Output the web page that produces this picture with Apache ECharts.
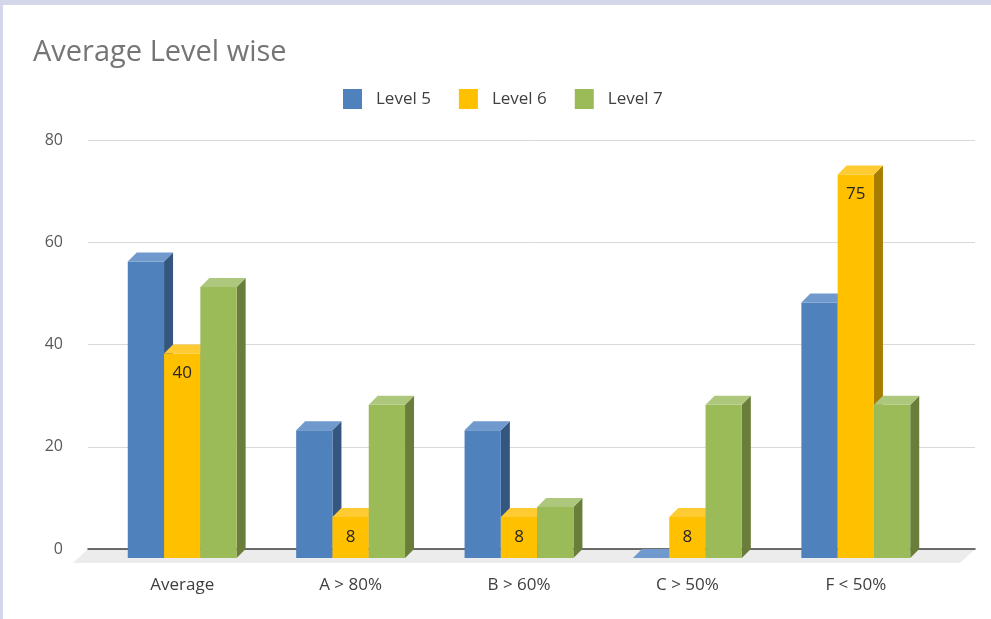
<!DOCTYPE html>
<html>
<head>
<meta charset="utf-8">
<script src="https://cdn.jsdelivr.net/npm/echarts@6/dist/echarts.min.js"></script>
<style>
html,body{margin:0;padding:0;background:#fff;}
#chart{position:absolute;left:0;top:0;width:991px;height:619px;background:#fff;}
.bt{position:absolute;left:0;top:0;width:991px;height:5px;background:#D4D6EA;}
.bl{position:absolute;left:0;top:0;width:3px;height:619px;background:#D4D6EA;}
</style>
</head>
<body>
<div id="chart"></div>
<div class="bt"></div>
<div class="bl"></div>
<script>
// ---- data ----
const categories = ['Average', 'A > 80%', 'B > 60%', 'C > 50%', 'F < 50%'];
const seriesNames = ['Level 5', 'Level 6', 'Level 7'];
const level5 = [58, 25, 25, 0, 50];
const level6 = [40, 8, 8, 8, 75];
const level7 = [53, 30, 10, 30, 30];
const yTicks = [0, 20, 40, 60, 80];

// ---- styles ----
const FONT = '"Open Sans", "Noto Sans", sans-serif';
const palette = [
  {front: '#4F81BD', top: '#7099CD', side: '#34567F'},
  {front: '#FFC000', top: '#FFCB33', side: '#A67D00'},
  {front: '#9BBB59', top: '#ADC87C', side: '#6A7D3B'}
];
const DEPTH = 9;
const BAR_FRAC = 0.2155;

function makeRender(idx, showLabel) {
  const c = palette[idx];
  return function (params, api) {
    const cat = api.value(0), v = api.value(1);
    const base = api.coord([cat, 0]);
    const topP = api.coord([cat, v]);
    const bw = api.size([1, 0])[0];
    const w = bw * BAR_FRAC;
    const x0 = base[0] + (idx - 1.5) * w;
    const x1 = x0 + w;
    const yb = base[1], yt = topP[1];
    const D = DEPTH;
    const children = [];
    if (yb - yt > 0.5) {
      children.push({type: 'polygon', shape: {points: [[x1, yt], [x1 + D, yt - D], [x1 + D, yb - D], [x1, yb]]}, style: {fill: c.side}});
      children.push({type: 'rect', shape: {x: x0, y: yt, width: w, height: yb - yt}, style: {fill: c.front}});
    }
    children.push({type: 'polygon', shape: {points: [[x0, yt], [x1, yt], [x1 + D, yt - D], [x0 + D, yt - D]]}, style: {fill: c.top}});
    if (showLabel) {
      children.push({type: 'text', style: {text: String(v), x: (x0 + x1) / 2, y: yt + 20, textAlign: 'center', textVerticalAlign: 'middle', fill: '#262626', font: '17px ' + FONT}});
    }
    return {type: 'group', children: children};
  };
}

const allData = [level5, level6, level7];
const series = allData.map(function (arr, i) {
  return {
    name: seriesNames[i],
    type: 'custom',
    xAxisIndex: 1,
    yAxisIndex: 1,
    z: 2,
    itemStyle: {color: palette[i].front},
    renderItem: makeRender(i, i === 1),
    encode: {x: 0, y: 1},
    data: arr.map(function (v, k) { return [k, v]; })
  };
});

const chart = echarts.init(document.getElementById('chart'), null, {renderer: 'canvas'});
chart.setOption({
  backgroundColor: '#fff',
  animation: false,
  title: {
    text: 'Average Level wise',
    left: 33, top: 38, padding: 0,
    textStyle: {fontFamily: FONT, fontSize: 29, fontWeight: 'normal', color: '#757575'}
  },
  legend: {
    data: seriesNames,
    left: 343, top: 89, padding: 0,
    itemWidth: 19, itemHeight: 20, itemGap: 28,
    icon: 'rect',
    textStyle: {fontFamily: FONT, fontSize: 17, color: '#404040', padding: [0, 0, 0, 9]}
  },
  grid: [
    {left: 88, right: 16, top: 140, bottom: 70},
    {left: 98, right: 51, top: 149, bottom: 61}
  ],
  xAxis: [
    {type: 'category', gridIndex: 0, data: categories, z: 1,
      axisLine: {show: true, lineStyle: {color: '#404040', width: 1.5}},
      axisTick: {show: false}, axisLabel: {show: false}, splitLine: {show: false}},
    {type: 'category', gridIndex: 1, data: categories,
      axisLine: {show: false}, axisTick: {show: false},
      axisLabel: {margin: 19, fontFamily: FONT, fontSize: 17, color: '#404040'}}
  ],
  yAxis: [
    {type: 'value', gridIndex: 0, min: yTicks[0], max: yTicks[yTicks.length - 1], interval: 20,
      axisLine: {show: false}, axisTick: {show: false},
      axisLabel: {margin: 25, fontFamily: FONT, fontSize: 16, color: '#595959'},
      splitLine: {lineStyle: {color: '#D9D9D9', width: 1}}},
    {type: 'value', gridIndex: 1, min: yTicks[0], max: yTicks[yTicks.length - 1], interval: 20,
      show: false, splitLine: {show: false}}
  ],
  graphic: [{
    type: 'polygon', z: -1, silent: true,
    shape: {points: [[88, 549], [975, 549], [960, 563], [73, 563]]},
    style: {fill: '#ECECEC'}
  }],
  series: series
});
</script>
</body>
</html>
